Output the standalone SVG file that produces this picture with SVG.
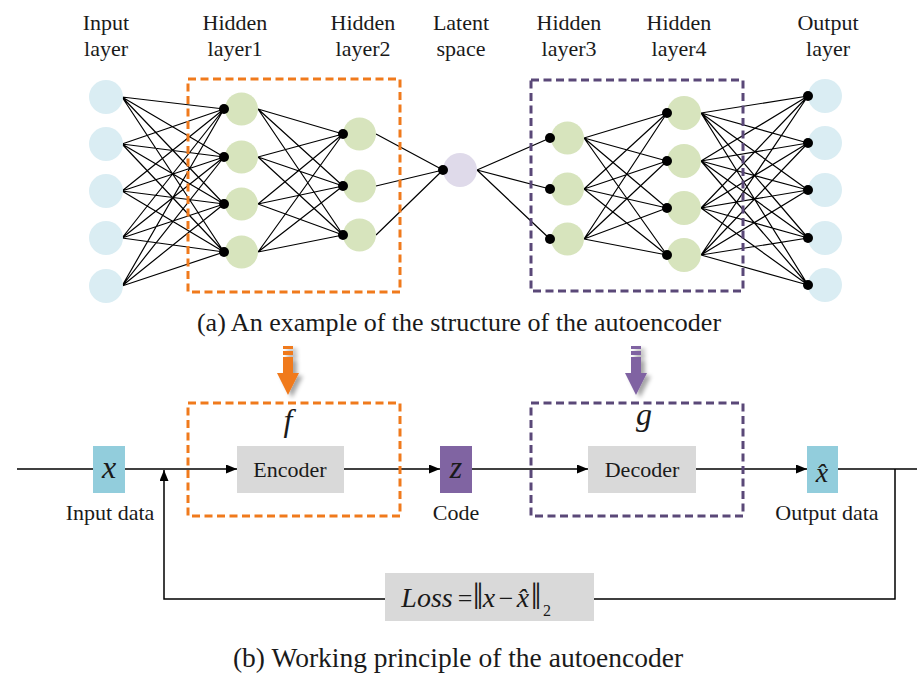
<svg xmlns="http://www.w3.org/2000/svg" width="917" height="673" viewBox="0 0 917 673">
<defs>
<style>
.lbl{font-family:"Liberation Serif","Times New Roman",serif;font-size:22px;fill:#1a1a1a;text-anchor:middle}
.cap{font-family:"Liberation Serif","Times New Roman",serif;fill:#1a1a1a;text-anchor:middle}
.math{font-family:"Liberation Serif","Times New Roman",serif;font-style:italic;fill:#1a1a1a;text-anchor:middle}
.rm{font-family:"Liberation Serif","Times New Roman",serif;fill:#1a1a1a;text-anchor:middle}
.edge{stroke:#000;stroke-width:1.2;fill:none}
.conn{stroke:#000;stroke-width:1.5;fill:none}
.inC{fill:#daedf3}
.hidC{fill:#d7e4bd}
.latC{fill:#dfdaea}
.dot{fill:#000}
.box{fill:#d9d9d9}
.blue{fill:#92cddc}
.purp{fill:#8064a2}
.dashO{fill:none;stroke:#f07a1c;stroke-width:3;stroke-dasharray:8 4.5}
.dashP{fill:none;stroke:#5a4878;stroke-width:3;stroke-dasharray:8 4.5}
</style>
<marker id="ah" markerUnits="userSpaceOnUse" markerWidth="12" markerHeight="10" refX="11" refY="4.5" orient="auto">
<path d="M0,0 L11,4.5 L0,9 Z" fill="#000"/>
</marker>
<filter id="sh" x="-50%" y="-50%" width="200%" height="200%">
<feGaussianBlur in="SourceAlpha" stdDeviation="2"/>
<feOffset dx="4" dy="3" result="b"/>
<feComponentTransfer><feFuncA type="linear" slope="0.35"/></feComponentTransfer>
<feMerge><feMergeNode/><feMergeNode in="SourceGraphic"/></feMerge>
</filter>
</defs>
<rect width="917" height="673" fill="#fff"/>

<g id="connectors">
<path class="edge" d="M122 97L224 109M122 97L224 157M122 97L224 204M122 97L224 252M122 144L224 109M122 144L224 157M122 144L224 204M122 144L224 252M122 191L224 109M122 191L224 157M122 191L224 204M122 191L224 252M122 238L224 109M122 238L224 157M122 238L224 204M122 238L224 252M122 286L224 109M122 286L224 157M122 286L224 204M122 286L224 252"/>
<path class="edge" d="M258 109L343 134M258 109L343 186M258 109L343 235M258 157L343 134M258 157L343 186M258 157L343 235M258 204L343 134M258 204L343 186M258 204L343 235M258 252L343 134M258 252L343 186M258 252L343 235"/>
<path class="edge" d="M376 134L443 170M376 186L443 170M376 235L443 170"/>
<path class="edge" d="M477 170L550 138M477 170L550 189M477 170L550 239"/>
<path class="edge" d="M584 138L667 113M584 138L667 161M584 138L667 208M584 138L667 255M584 189L667 113M584 189L667 161M584 189L667 208M584 189L667 255M584 239L667 113M584 239L667 161M584 239L667 208M584 239L667 255"/>
<path class="edge" d="M701 113L808 96M701 113L808 143M701 113L808 190M701 113L808 238M701 113L808 285M701 161L808 96M701 161L808 143M701 161L808 190M701 161L808 238M701 161L808 285M701 208L808 96M701 208L808 143M701 208L808 190M701 208L808 238M701 208L808 285M701 255L808 96M701 255L808 143M701 255L808 190M701 255L808 238M701 255L808 285"/>
<path class="conn" d="M17 469H93"/>
<path class="conn" d="M125 469H237" marker-end="url(#ah)"/>
<path class="conn" d="M344 469H440" marker-end="url(#ah)"/>
<path class="conn" d="M472 469H588" marker-end="url(#ah)"/>
<path class="conn" d="M696 469H807" marker-end="url(#ah)"/>
<path class="conn" d="M838 469H917"/>
<path class="conn" d="M895 469V599H594"/>
<path class="conn" d="M385 599H164V470" marker-end="url(#ah)"/>
</g>

<g id="encoder-region">
<rect class="dashO" x="188" y="79" width="212" height="213"/>
<rect class="dashO" x="188" y="403" width="212" height="113"/>
</g>
<g id="decoder-region">
<rect class="dashP" x="531" y="80" width="212" height="211"/>
<rect class="dashP" x="531" y="403" width="212" height="113"/>
</g>

<g id="input-layer">
<circle class="inC" cx="106" cy="97" r="17"/><circle class="inC" cx="106" cy="144" r="17"/><circle class="inC" cx="106" cy="191" r="17"/><circle class="inC" cx="106" cy="238" r="17"/><circle class="inC" cx="106" cy="286" r="17"/>
</g>
<g id="hidden-layer1">
<circle class="hidC" cx="241.5" cy="109" r="16.5"/><circle class="hidC" cx="241.5" cy="157" r="16.5"/><circle class="hidC" cx="241.5" cy="204" r="16.5"/><circle class="hidC" cx="241.5" cy="252" r="16.5"/>
<circle class="dot" cx="224" cy="109" r="5"/><circle class="dot" cx="224" cy="157" r="5"/><circle class="dot" cx="224" cy="204" r="5"/><circle class="dot" cx="224" cy="252" r="5"/>
</g>
<g id="hidden-layer2">
<circle class="hidC" cx="359.5" cy="134" r="16.5"/><circle class="hidC" cx="359.5" cy="186" r="16.5"/><circle class="hidC" cx="359.5" cy="235" r="16.5"/>
<circle class="dot" cx="343" cy="134" r="5"/><circle class="dot" cx="343" cy="186" r="5"/><circle class="dot" cx="343" cy="235" r="5"/>
</g>
<g id="latent-space">
<circle class="latC" cx="460" cy="170" r="17"/>
<circle class="dot" cx="443" cy="170" r="5"/>
</g>
<g id="hidden-layer3">
<circle class="hidC" cx="567.5" cy="138" r="16.5"/><circle class="hidC" cx="567.5" cy="189" r="16.5"/><circle class="hidC" cx="567.5" cy="239" r="16.5"/>
<circle class="dot" cx="550" cy="138" r="5"/><circle class="dot" cx="550" cy="189" r="5"/><circle class="dot" cx="550" cy="239" r="5"/>
</g>
<g id="hidden-layer4">
<circle class="hidC" cx="684" cy="113" r="17"/><circle class="hidC" cx="684" cy="161" r="17"/><circle class="hidC" cx="684" cy="208" r="17"/><circle class="hidC" cx="684" cy="255" r="17"/>
<circle class="dot" cx="667" cy="113" r="5"/><circle class="dot" cx="667" cy="161" r="5"/><circle class="dot" cx="667" cy="208" r="5"/><circle class="dot" cx="667" cy="255" r="5"/>
</g>
<g id="output-layer">
<circle class="inC" cx="825" cy="96" r="17"/><circle class="inC" cx="825" cy="143" r="17"/><circle class="inC" cx="825" cy="190" r="17"/><circle class="inC" cx="825" cy="238" r="17"/><circle class="inC" cx="825" cy="285" r="17"/>
<circle class="dot" cx="808" cy="96" r="5"/><circle class="dot" cx="808" cy="143" r="5"/><circle class="dot" cx="808" cy="190" r="5"/><circle class="dot" cx="808" cy="238" r="5"/><circle class="dot" cx="808" cy="285" r="5"/>
</g>

<g id="layer-labels">
<text class="lbl" x="106" y="30">Input</text><text class="lbl" x="106" y="56">layer</text>
<text class="lbl" x="235" y="30">Hidden</text><text class="lbl" x="235" y="56">layer1</text>
<text class="lbl" x="363" y="30">Hidden</text><text class="lbl" x="363" y="56">layer2</text>
<text class="lbl" x="461" y="30">Latent</text><text class="lbl" x="461" y="56">space</text>
<text class="lbl" x="569" y="30">Hidden</text><text class="lbl" x="569" y="56">layer3</text>
<text class="lbl" x="679" y="30">Hidden</text><text class="lbl" x="679" y="56">layer4</text>
<text class="lbl" x="828" y="30">Output</text><text class="lbl" x="828" y="56">layer</text>
</g>
<text class="cap" x="459" y="331" font-size="26">(a) An example of the structure of the autoencoder</text>

<g id="arrow-f" filter="url(#sh)" fill="#f07a1c">
<rect x="283" y="346" width="10" height="3"/>
<rect x="283" y="351" width="10" height="4"/>
<rect x="283" y="357" width="10" height="17"/>
<path d="M277 373H299L288 395Z"/>
</g>
<g id="arrow-g" filter="url(#sh)" fill="#8064a2">
<rect x="631" y="346" width="10" height="3"/>
<rect x="631" y="351" width="10" height="4"/>
<rect x="631" y="357" width="10" height="17"/>
<path d="M625 373H647L636 395Z"/>
</g>
<text class="math" x="288" y="431" font-size="32">f</text>
<text class="math" x="644" y="425" font-size="32">g</text>

<g id="input-data">
<rect class="blue" x="93" y="446" width="32" height="47"/>
<text class="math" x="109" y="478" font-size="32">x</text>
<text class="lbl" x="110" y="520">Input data</text>
</g>
<g id="encoder">
<rect class="box" x="237" y="446" width="107" height="47"/>
<text class="lbl" x="290" y="477" font-size="23">Encoder</text>
</g>
<g id="code">
<rect class="purp" x="440" y="446" width="32" height="47"/>
<text class="math" x="456" y="478" font-size="32">z</text>
<text class="lbl" x="456" y="520">Code</text>
</g>
<g id="decoder">
<rect class="box" x="588" y="446" width="108" height="47"/>
<text class="lbl" x="642" y="477" font-size="23">Decoder</text>
</g>
<g id="output-data">
<rect class="blue" x="807" y="446" width="31" height="47"/>
<text class="math" x="822" y="482" font-size="28">x̂</text>
<text class="lbl" x="827" y="520">Output data</text>
</g>
<g id="loss">
<rect class="box" x="385" y="573" width="209" height="48"/>
<text class="math" x="427" y="607" font-size="28">Loss</text>
<text class="rm" x="465" y="607" font-size="26">=</text>
<text class="rm" x="478" y="609" font-size="38">‖</text>
<text class="math" x="489" y="607" font-size="28">x</text>
<text class="rm" x="506" y="607" font-size="26">−</text>
<text class="math" x="523" y="607" font-size="28">x̂</text>
<text class="rm" x="536" y="609" font-size="38">‖</text>
<text class="rm" x="547" y="616" font-size="16">2</text>
</g>
<text class="cap" x="458" y="667" font-size="27.5">(b) Working principle of the autoencoder</text>
</svg>
